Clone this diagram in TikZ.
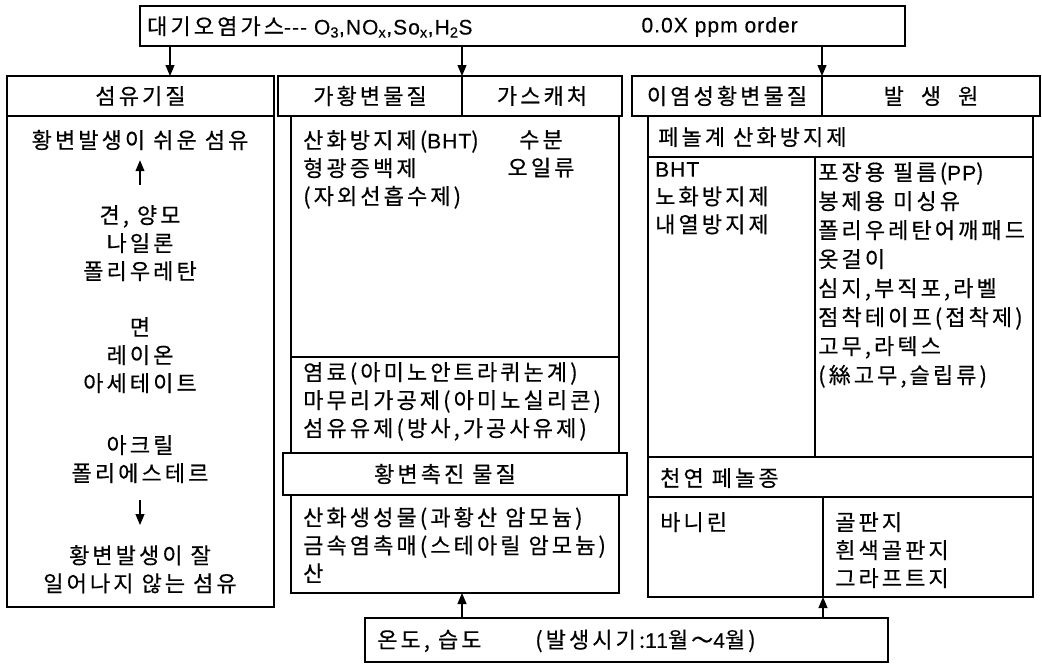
\documentclass[tikz,border=0pt]{standalone}
\usepackage{fontspec}
\setmainfont{Noto Sans CJK KR}[LetterSpace=14, FakeBold=0.4]
\newfontfamily\latfont{Liberation Sans}[LetterSpace=5, FakeBold=0.3]
\newcommand{\lat}[1]{{\latfont\fontsize{21}{28}\selectfont #1}}
\usetikzlibrary{arrows.meta}
\begin{document}
\begin{tikzpicture}[x=1pt,y=-1pt,
  font=\fontsize{22}{28}\selectfont,
  box/.style={draw, line width=1.2pt, inner sep=0pt, outer sep=0pt, anchor=north west},
  txt/.style={inner sep=0pt, anchor=north west, align=left},
  ctxt/.style={inner sep=0pt, anchor=north, align=center},
  ltxt/.style={inner sep=0pt, anchor=west},
  arr/.style={line width=1.2pt, -{Triangle[length=11pt,width=9pt]}}]
\useasboundingbox (0,0) rectangle (1042,665);
% top box
\node[box, minimum width=765pt, minimum height=40pt] (top) at (140,6) {};
\node[ltxt] (t1) at (147,27) {대기오염가스\lat{-{}-{}- O\textsubscript{3},NO\textsubscript{x},So\textsubscript{x},H\textsubscript{2}S}};
\node[ltxt, anchor=east] (t2) at (798,27) {\lat{0.0X ppm order}};
% left column
\node[box, minimum width=267pt, minimum height=40pt] (lh) at (7,76) {섬유기질};
\node[box, minimum width=267pt, minimum height=491pt] (lb) at (7,116) {};
\node[inner sep=0pt] (l1) at (140,140) {황변발생이 쉬운 섬유};
\node[ctxt] (l2) at (140,205) {견, 양모\\나일론\\폴리우레탄};
\node[ctxt] (l3) at (140,317) {면\\레이온\\아세테이트};
\node[ctxt] (l4) at (140,435) {아크릴\\폴리에스테르};
\node[ctxt] (l5) at (140,545) {황변발생이 잘\\일어나지 않는 섬유};
\draw[arr, shorten <=20pt, shorten >=10pt] (l2.north) -- (l1.south);
\draw[arr, shorten <=17pt, shorten >=20pt] (l4.south) -- (l5.north);
% middle column
\node[box, minimum width=184pt, minimum height=40pt] (mh1) at (278,76) {가황변물질};
\node[box, minimum width=160pt, minimum height=40pt] (mh2) at (462,76) {가스캐처};
\node[box, minimum width=328pt, minimum height=241pt] (mb1) at (291,116) {};
\node[box, minimum width=328pt, minimum height=96pt] (mb2) at (291,357) {};
\node[box, minimum width=344pt, minimum height=42pt] (mh3) at (283,453) {};
\node[box, minimum width=328pt, minimum height=98pt] (mb3) at (291,495) {};
\node[txt] (m1) at (303,130) {산화방지제(\lat{BHT})\\형광증백제\\(자외선흡수제)};
\node[ctxt] (m2) at (541,130) {수분\\오일류};
\node[txt] (m4) at (303,362) {염료(아미노안트라퀴논계)\\마무리가공제(아미노실리콘)\\섬유유제(방사,가공사유제)};
\node[inner sep=0pt] (m5) at (445,474) {황변촉진 물질};
\node[txt] (m6) at (303,507) {산화생성물(과황산 암모늄)\\금속염촉매(스테아릴 암모늄)\\산};
% right column
\node[box, minimum width=190pt, minimum height=40pt] (rh1) at (632,76) {이염성황변물질};
\node[box, minimum width=218pt, minimum height=40pt] (rh2) at (822,76) {발\hspace{17pt}생\hspace{17pt}원};
\node[box, minimum width=385pt, minimum height=41pt] (rs1) at (648,116) {};
\node[ltxt] (r0) at (658,137) {페놀계 산화방지제};
\node[box, minimum width=167pt, minimum height=300pt] (rb1) at (648,157) {};
\node[box, minimum width=218pt, minimum height=300pt] (rb2) at (815,157) {};
\node[box, minimum width=385pt, minimum height=40pt] (rs2) at (648,457) {};
\node[ltxt] (r5) at (660,478) {천연 페놀종};
\node[box, minimum width=175pt, minimum height=100pt] (rb3) at (648,497) {};
\node[box, minimum width=210pt, minimum height=100pt] (rb4) at (823,497) {};
\node[txt] (r1) at (655,162) {\lat{BHT}\\노화방지제\\내열방지제};
\node[txt, font=\fontsize{22}{29}\selectfont] (r2) at (818,162) {포장용 필름(\lat{PP})\\봉제용 미싱유\\폴리우레탄어깨패드\\옷걸이\\심지,부직포,라벨\\점착테이프(접착제)\\고무,라텍스\\(絲고무,슬립류)};
\node[txt] (r3) at (660,512) {바니린};
\node[txt] (r4) at (835,512) {골판지\\흰색골판지\\그라프트지};
% bottom box
\node[box, minimum width=523pt, minimum height=44pt] (bot) at (365,618) {};
\node[ltxt] (b1) at (377,641) {온도, 습도};
\node[ltxt] (b2) at (535,641) {(발생시기:\lat{11}월～\lat{4}월)};
% connectors
\coordinate (lx) at (170,0);
\draw[arr] (top.south -| lx) -- (lh.north -| lx);
\draw[arr] (top.south -| mh1.north east) -- (mh1.north east);
\draw[arr] (top.south -| rh1.north east) -- (rh1.north east);
\draw[arr] (bot.north -| mh1.north east) -- (mb3.south -| mh1.north east);
\draw[arr] (bot.north -| rb3.south east) -- (rb3.south east);
\end{tikzpicture}
\end{document}
